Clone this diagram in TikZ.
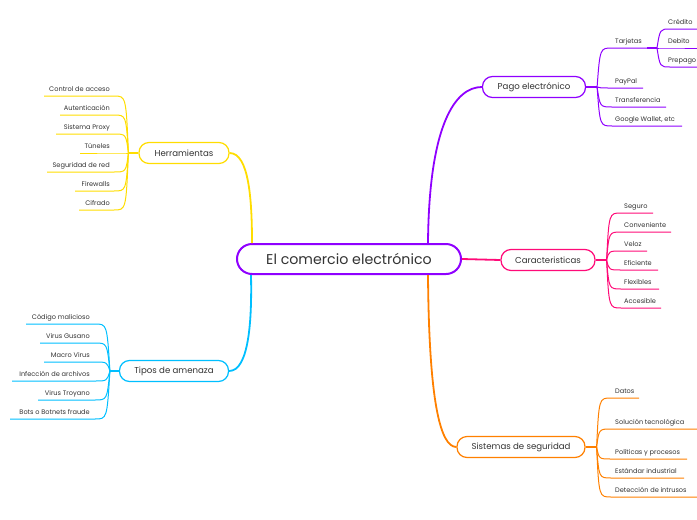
\documentclass[tikz,border=0pt]{standalone}
\usepackage{fontspec}
\setmainfont{Poppins}
\usepackage{tikz}
\usetikzlibrary{positioning}
\usetikzlibrary{calc}
\definecolor{amarillo}{HTML}{FFDD00}
\definecolor{celeste}{HTML}{00BFFF}
\definecolor{morado}{HTML}{8F00FF}
\definecolor{rosa}{HTML}{FF0A78}
\definecolor{naranja}{HTML}{FF8000}
\definecolor{texto}{HTML}{333333}
\tikzstyle{central}=[draw=morado, line width=2pt, rounded corners=15pt, minimum width=224pt, minimum height=30pt, fill=white, text=texto, font=\fontsize{14.2}{16}\selectfont]
\tikzstyle{topic}=[draw, line width=1.2pt, rounded corners=10pt, minimum height=21pt, fill=white, text=texto, font=\fontsize{8.6}{10}\selectfont]
\tikzstyle{leaf}=[inner sep=0pt, text=texto, font=\fontsize{6.6}{7}\selectfont]
\tikzstyle{branch} = [draw, line width=1.8pt]
\tikzstyle{stub} = [draw, line width=1.5pt]
\tikzstyle{twig} = [draw, line width=1pt]

\begin{document}
\begin{tikzpicture}[x=1pt, y=-1pt]

    \useasboundingbox (0,0) rectangle (697,520);

    % centre and main topics
    \node[central] (main) at (349,259) {El comercio electrónico};
    \node[topic, draw=amarillo, minimum width=90pt] (herr) at (184,153) {Herramientas};
    \node[topic, draw=celeste, minimum width=109pt] (tipos) at (174,371) {Tipos de amenaza};
    \node[topic, draw=morado, minimum width=103pt] (pago) at (534,87) {Pago electrónico};
    \node[topic, draw=rosa, minimum width=94pt] (carac) at (548,260) {Caracteristicas};
    \node[topic, draw=naranja, minimum width=128pt] (sist) at (521,447) {Sistemas de seguridad};

    \draw[branch, amarillo] (herr.east) .. controls (249,153) and (252,200) .. ($(main.north west)+(16,0)$);
    \draw[branch, celeste] (tipos.east) .. controls (249,371) and (252,320) .. ($(main.south west)+(15,0)$);
    \draw[branch, morado] (pago.west) .. controls (455,87) and (429,125) .. ($(main.north east)+(-34,0)$);
    \draw[branch, rosa] (main.east) -- (carac.west);
    \draw[branch, naranja] ($(main.south east)+(-34,0)$) .. controls (429,400) and (440,447) .. (sist.west);

    % hubs
    \coordinate (herr-hub) at ($(herr.west)+(-10,0)$);
    \coordinate (tipos-hub) at ($(tipos.west)+(-9,0)$);
    \coordinate (pago-hub) at ($(pago.east)+(11,0)$);
    \coordinate (carac-hub) at ($(carac.east)+(11,0)$);
    \coordinate (sist-hub) at ($(sist.east)+(11,0)$);
    \coordinate (tarj-end) at (647,48);
    \coordinate (tarj-hub) at (657,48);

    \path[stub, amarillo] (herr.west) -- (herr-hub);
    \path[stub, celeste] (tipos.west) -- (tipos-hub);
    \path[stub, morado] (pago.east) -- (pago-hub);
    \path[stub, rosa] (carac.east) -- (carac-hub);
    \path[stub, naranja] (sist.east) -- (sist-hub);

    % Herramientas
    \foreach \y/\xl/\txt in {96/44/Control de acceso, 115/60/Autenticación, 134/56/Sistema Proxy, 153/80/Túneles, 172/47/Seguridad de red, 191/75/Firewalls, 210/79/Cifrado}
    {
        \node[leaf, anchor=base east] (herr-\y) at (110,\y-4.5) {\txt};
        \draw[twig, amarillo] (herr-hub) .. controls (126,\y) .. (114,\y) -- (\xl,\y);
    }

    % Tipos de amenaza
    \foreach \y/\xl/\txt in {324/26/Código malicioso, 343/40/Virus Gusano, 362/44/Macro Virus, 381/12/Infección de archivos, 400/38/Virus Troyano, 419/10/Bots o Botnets fraude}
    {
        \node[leaf, anchor=base east] (tipos-\y) at (90,\y-4.5) {\txt};
        \draw[twig, celeste] (tipos-hub) .. controls (107,\y) .. (95,\y) -- (\xl,\y);
    }

    % Pago electronico
    \foreach \y/\xr/\txt in {48/647/Tarjetas, 88/643/PayPal, 107/666/Transferencia, 126/682/{Google Wallet, etc}}
    {
        \node[leaf, anchor=base west] (pago-\y) at (615,\y-4.5) {\txt};
        \draw[twig, morado] (pago-hub) .. controls (600,\y) .. (612,\y) -- (\xr,\y);
    }
    \path[stub, morado] (tarj-end) -- (tarj-hub);
    \foreach \y/\txt in {29/Crédito, 48/Debito, 67/Prepago}
    {
        \node[leaf, anchor=base west] (tarj-\y) at (668,\y-4.5) {\txt};
        \draw[twig, morado] (tarj-hub) .. controls (660,\y) .. (670,\y) -- (700,\y);
    }

    % Caracteristicas
    \foreach \y/\xr/\txt in {213/653/Seguro, 232/671/Conveniente, 251/647/Veloz, 270/658/Eficiente, 289/659/Flexibles, 308/661/Accesible}
    {
        \node[leaf, anchor=base west] (carac-\y) at (624,\y-4.5) {\txt};
        \draw[twig, rosa] (carac-hub) .. controls (609,\y) .. (621,\y) -- (\xr,\y);
    }

    % Sistemas de seguridad
    \foreach \y/\xr/\txt in {398/639/Datos, 429/697/Solución tecnológica, 459/687/Políticas y procesos, 478/684/Estándar industrial, 497/697/Detección de intrusos}
    {
        \node[leaf, anchor=base west] (sist-\y) at (615,\y-4.5) {\txt};
        \draw[twig, naranja] (sist-hub) .. controls (599,\y) .. (611,\y) -- (\xr,\y);
    }

\end{tikzpicture}
\end{document}
